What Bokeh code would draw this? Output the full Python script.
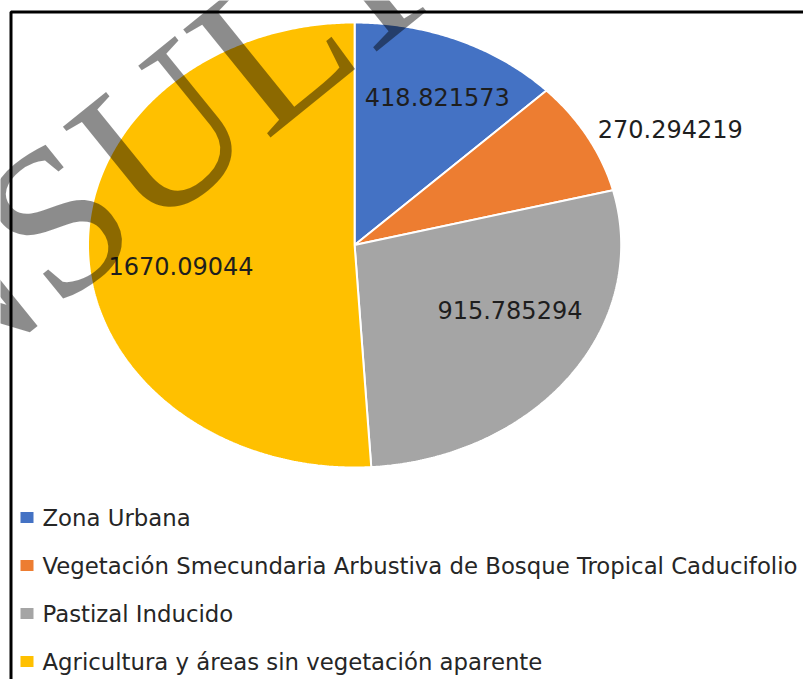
import numpy as np
from bokeh.plotting import figure
from bokeh.models import Range1d, BoxAnnotation, Label, ColumnDataSource
from bokeh.embed import file_html
from bokeh.resources import INLINE
from bokeh.core.properties import value

# Land-use areas
categories = [
    "Zona Urbana",
    "Vegetación Smecundaria Arbustiva de Bosque Tropical Caducifolio",
    "Pastizal Inducido",
    "Agricultura y áreas sin vegetación aparente",
]
areas = [418.821573, 270.294219, 915.785294, 1670.09044]
area_labels = ["418.821573", "270.294219", "915.785294", "1670.09044"]
colors = ["#4472C4", "#ED7D31", "#A5A5A5", "#FFC000"]

# Page geometry (pixels)
W, H = 803, 679
CX, CY = 354.1, 244.5      # pie centre
RX, RY = 266.6, 222.5      # pie radii (slightly wide ellipse)


def px_x(px):
    return (px - CX) / RX


def px_y(py):
    return (CY - py) / RY


p = figure(
    width=W, height=H,
    x_range=Range1d(px_x(0), px_x(W)),
    y_range=Range1d(px_y(H), px_y(0)),
    output_backend="svg", toolbar_location=None,
    min_border=0, outline_line_color=None,
)
p.axis.visible = False
p.grid.visible = False
p.background_fill_color = "white"
p.border_fill_color = "white"

# Slices: clockwise from 12 o'clock on a unit circle in data space
vals = np.array(areas, dtype=float)
frac = vals / vals.sum()
edges = np.concatenate([[0.0], np.cumsum(frac)]) * 2 * np.pi
xs, ys = [], []
for a0, a1 in zip(edges[:-1], edges[1:]):
    t = np.linspace(a0, a1, max(8, int((a1 - a0) * 120)))
    xs.append(np.concatenate([[0.0], np.sin(t), [0.0]]).tolist())
    ys.append(np.concatenate([[0.0], np.cos(t), [0.0]]).tolist())
p.patches(xs=xs, ys=ys, fill_color=colors, line_color="white", line_width=2)

# Value labels placed along each slice's mid angle
label_r = [0.734, 1.293, 0.652, 0.658]
label_nudge_deg = [2.0, 5.4, -9.4, -6.5]
mid = (edges[:-1] + edges[1:]) / 2 + np.radians(label_nudge_deg)
lab_src = ColumnDataSource(dict(
    x=(np.array(label_r) * np.sin(mid)).tolist(),
    y=(np.array(label_r) * np.cos(mid)).tolist(),
    t=area_labels,
))
p.text(x="x", y="y", text="t", source=lab_src,
       text_font=value("DejaVu Sans"), text_font_size="24px",
       text_color="#1e1e1e", text_align="center", text_baseline="middle")

# Legend rows below the pie
leg_top, leg_pitch = 517.0, 48.0
rows = np.arange(len(categories))
leg_src = ColumnDataSource(dict(
    x=[px_x(26.5)] * len(categories),
    tx=[px_x(42.0)] * len(categories),
    y=[px_y(leg_top + i * leg_pitch) for i in rows],
    c=colors,
    t=categories,
))
p.rect(x="x", y="y", width=13, height=11, width_units="screen",
       height_units="screen", fill_color="c", line_color=None, source=leg_src)
p.text(x="tx", y="y", text="t", source=leg_src,
       text_font=value("DejaVu Sans"), text_font_size="22.8px",
       text_color="#262626", text_align="left", text_baseline="middle")

# Frame lines on the top and left edges
p.add_layout(BoxAnnotation(
    left=px_x(10.5), top=px_y(11.5), right=px_x(W + 40), bottom=px_y(H + 40),
    fill_alpha=0, line_color="black", line_alpha=1.0, line_width=3,
))

# Diagonal watermark
p.add_layout(Label(
    x=px_x(87), y=px_y(193), text="CONSULTA", angle=np.radians(39),
    text_font="Liberation Serif", text_font_size="212px",
    text_color="black", text_alpha=0.45,
    text_align="center", text_baseline="alphabetic",
))

open("out.html", "w").write(file_html(p, INLINE))
